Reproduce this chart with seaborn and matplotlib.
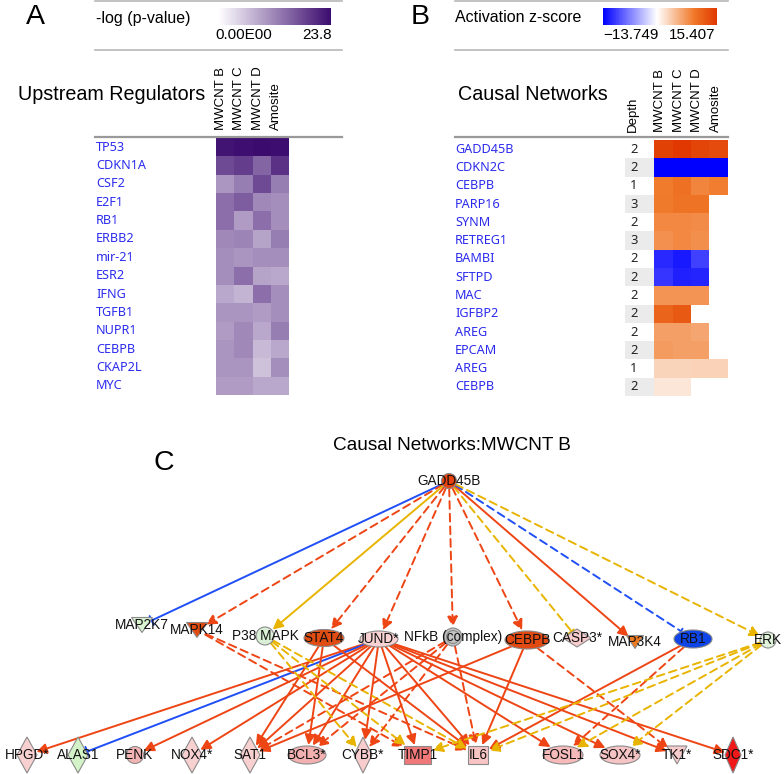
import numpy as np
import pandas as pd
import matplotlib
matplotlib.use("Agg")
import matplotlib.pyplot as plt
import seaborn as sns
from matplotlib.colors import LinearSegmentedColormap, ListedColormap
from matplotlib.patches import Ellipse, Polygon, Rectangle
import matplotlib.transforms as mtrans

plt.rcParams["font.family"] = ["Liberation Sans", "DejaVu Sans"]

W, H = 784, 774

#% Panel A data: upstream regulators, -log(p)
samples = ["MWCNT B", "MWCNT C", "MWCNT D", "Amosite"]
regulators = ["TP53", "CDKN1A", "CSF2", "E2F1", "RB1", "ERBB2", "mir-21", "ESR2",
              "IFNG", "TGFB1", "NUPR1", "CEBPB", "CKAP2L", "MYC"]
neglog_p = [
    [23.0, 23.4, 23.8, 23.5],
    [17.6, 18.8, 15.0, 20.0],
    [10.3, 12.7, 17.6, 12.7],
    [14.0, 15.8, 11.5, 11.0],
    [14.0, 9.7, 14.0, 11.0],
    [11.5, 12.0, 9.0, 12.7],
    [11.0, 10.4, 11.0, 11.0],
    [11.0, 14.0, 9.0, 8.5],
    [8.5, 7.3, 14.0, 11.0],
    [10.4, 10.4, 9.7, 11.0],
    [9.7, 11.5, 8.5, 12.7],
    [10.4, 11.5, 6.7, 8.5],
    [10.4, 10.4, 6.0, 11.0],
    [9.7, 9.7, 8.5, 8.5],
]
p_min, p_max = 0.0, 23.8

#% Panel B data: causal networks, activation z-score
networks = ["GADD45B", "CDKN2C", "CEBPB", "PARP16", "SYNM", "RETREG1", "BAMBI",
            "SFTPD", "MAC", "IGFBP2", "AREG", "EPCAM", "AREG", "CEBPB"]
depth = [2, 2, 1, 3, 2, 3, 2, 2, 2, 2, 2, 2, 1, 2]
nan = np.nan
zscore = [
    [14.6, 15.4, 14.2, 13.6],
    [-13.749, -13.749, -13.749, -13.749],
    [9.3, 10.2, 8.6, 9.2],
    [9.4, 10.0, 10.0, nan],
    [8.4, 8.4, 8.2, nan],
    [7.8, 8.4, 7.9, nan],
    [-11.5, -12.3, -10.3, nan],
    [-10.8, -12.0, -11.8, nan],
    [7.6, 7.6, 7.6, nan],
    [11.4, 12.4, nan, nan],
    [6.8, 6.8, 6.4, nan],
    [7.0, 6.8, 6.8, nan],
    [3.0, 3.0, 3.2, 3.2],
    [1.8, 1.8, nan, nan],
]
z_min, z_max = -13.749, 15.407

#% Panel C data: network layout
node_names = ["GADD45B", "MAP2K7", "MAPK14", "P38 MAPK", "STAT4", "JUND*",
              "NFkB (complex)", "CEBPB", "CASP3*", "MAP3K4", "RB1", "ERK",
              "HPGD*", "ALAS1", "PENK", "NOX4*", "SAT1", "BCL3*", "CYBB*",
              "TIMP1", "IL6", "FOSL1", "SOX4*", "TK1*", "SDC1*"]
node_x = [449, 142, 197, 265, 324, 379, 453, 527, 577, 635, 693, 768,
          27, 78, 135, 192, 250, 307, 363, 418, 478, 563, 620, 677, 733]
node_y = [481, 625, 630, 636, 638, 639, 637, 640, 638, 642, 639, 640,
          755, 755, 755, 755, 755, 755, 755, 755, 755, 755, 755, 755, 755]
node_shape = ["circle", "tri", "tri", "circle", "ellipse", "ellipse", "complex",
              "ellipse", "diamond", "tri", "ellipse", "circle",
              "diamond", "diamond", "circle", "diamond", "diamond", "ellipse",
              "diamond", "square", "square", "ellipse", "ellipse", "tri", "diamond"]
node_w = [15, 21, 21, 18, 40, 38, 18, 44, 28, 17, 38, 16,
          20, 20, 17, 20, 20, 38, 18, 27, 20, 40, 40, 20, 16]
node_h = [15, 15, 15, 18, 17, 16, 18, 18, 18, 13, 18, 16,
          36, 36, 17, 36, 36, 18, 36, 18, 18, 18, 18, 18, 36]
node_color = ["#e8420e", "#d9f2d0", "#e24a10", "#d9efd6", "#e04c12", "#f9d3d3",
              "#c4c4c4", "#e24a12", "#f8cccc", "#f07a20", "#0f45e6", "#e0f2dc",
              "#f8d0d0", "#d4f2c8", "#f4b4b4", "#f8d0d0", "#f8d0d0", "#f3b0b0",
              "#f8cccc", "#f07878", "#f8c4c4", "#f6baba", "#f6c4c4", "#f8cccc", "#f01818"]

RED, YEL, BLU = "#ee4515", "#e8b400", "#1f4ff5"
# (source, target, colour, line style, end)
edges = [
    ("GADD45B", "MAP2K7", BLU, "-", "bar"),
    ("GADD45B", "MAPK14", RED, "--", "arrow"),
    ("GADD45B", "P38 MAPK", YEL, "-", "arrow"),
    ("GADD45B", "STAT4", RED, "--", "arrow"),
    ("GADD45B", "JUND*", RED, "--", "arrow"),
    ("GADD45B", "NFkB (complex)", RED, "--", "arrow"),
    ("GADD45B", "CEBPB", RED, "--", "arrow"),
    ("GADD45B", "CASP3*", YEL, "--", "bar"),
    ("GADD45B", "MAP3K4", RED, "-", "arrow"),
    ("GADD45B", "RB1", BLU, "--", "bar"),
    ("GADD45B", "ERK", YEL, "--", "arrow"),
    ("JUND*", "HPGD*", RED, "-", "arrow"),
    ("JUND*", "ALAS1", BLU, "-", "bar"),
    ("JUND*", "PENK", RED, "-", "arrow"),
    ("JUND*", "NOX4*", RED, "-", "arrow"),
    ("JUND*", "SAT1", RED, "-", "arrow"),
    ("JUND*", "BCL3*", RED, "-", "arrow"),
    ("JUND*", "CYBB*", RED, "-", "arrow"),
    ("JUND*", "TIMP1", RED, "-", "arrow"),
    ("JUND*", "IL6", RED, "-", "arrow"),
    ("JUND*", "FOSL1", RED, "-", "arrow"),
    ("JUND*", "SOX4*", RED, "-", "arrow"),
    ("JUND*", "TK1*", RED, "-", "arrow"),
    ("JUND*", "SDC1*", RED, "-", "arrow"),
    ("STAT4", "SAT1", RED, "-", "arrow"),
    ("STAT4", "BCL3*", RED, "-", "arrow"),
    ("STAT4", "IL6", RED, "-", "arrow"),
    ("MAPK14", "TIMP1", RED, "--", "arrow"),
    ("MAPK14", "IL6", RED, "--", "arrow"),
    ("P38 MAPK", "CYBB*", YEL, "--", "arrow"),
    ("P38 MAPK", "TIMP1", YEL, "--", "arrow"),
    ("P38 MAPK", "IL6", YEL, "--", "arrow"),
    ("NFkB (complex)", "SAT1", RED, "--", "arrow"),
    ("NFkB (complex)", "BCL3*", RED, "--", "arrow"),
    ("NFkB (complex)", "CYBB*", RED, "--", "arrow"),
    ("NFkB (complex)", "IL6", RED, "--", "arrow"),
    ("CEBPB", "SAT1", RED, "-", "arrow"),
    ("CEBPB", "IL6", RED, "-", "arrow"),
    ("CEBPB", "TK1*", RED, "--", "arrow"),
    ("RB1", "IL6", RED, "-", "arrow"),
    ("RB1", "FOSL1", RED, "--", "arrow"),
    ("ERK", "TIMP1", YEL, "--", "arrow"),
    ("ERK", "IL6", YEL, "--", "arrow"),
    ("ERK", "FOSL1", YEL, "--", "arrow"),
    ("ERK", "SOX4*", YEL, "--", "arrow"),
]

###========================================================================###

fig = plt.figure(figsize=(W / 100, H / 100), dpi=100)


def px_axes(x0, y0, x1, y1):
    return fig.add_axes([x0 / W, 1 - y1 / H, (x1 - x0) / W, (y1 - y0) / H])


LABEL_BLUE = "#2b2bee"
shift = lambda px: mtrans.ScaledTranslation(px / 100, 0, fig.dpi_scale_trans)

#% Panel A heatmap
axA = px_axes(216, 138, 289, 395)
caxA = px_axes(218, 8, 331, 25)
dfA = pd.DataFrame(neglog_p, index=regulators, columns=samples)
cmapA = LinearSegmentedColormap.from_list("purp", ["#ffffff", "#3b0b6e"])
sns.heatmap(dfA, ax=axA, cmap=cmapA, vmin=p_min, vmax=p_max, cbar_ax=caxA,
            cbar_kws={"orientation": "horizontal"}, xticklabels=True, yticklabels=True)
axA.tick_params(axis="x", top=True, labeltop=True, bottom=False, labelbottom=False,
                labelrotation=90, length=0, pad=5.5, labelsize=9.5)
axA.tick_params(axis="y", length=0, pad=(216 - 96) * 0.72, labelrotation=0)
for lbl in axA.get_yticklabels():
    lbl.set_ha("left")
    lbl.set_color(LABEL_BLUE)
    lbl.set_family(["Noto Sans"])
    lbl.set_fontsize(9.1)
for lbl in axA.get_xticklabels():
    lbl.set_transform(lbl.get_transform() + shift(-4))
axA.set_xlabel("")
axA.set_ylabel("")
cbA = axA.collections[0].colorbar
cbA.outline.set_visible(False)
caxA.set_xticks([])

#% Panel B heatmap + depth column
axD = px_axes(625, 140, 654, 396)
axB = px_axes(654, 140, 728, 396)
caxB = px_axes(603, 8, 717, 25)
parity = pd.DataFrame({"Depth": np.arange(len(networks)) % 2}, index=networks)
sns.heatmap(parity, ax=axD, cmap=ListedColormap(["#ffffff", "#ebebeb"]), cbar=False,
            annot=np.array(depth).reshape(-1, 1), fmt="d",
            annot_kws={"fontsize": 9.3, "color": "#222222", "family": "Noto Sans"},
            xticklabels=True, yticklabels=True)
for t in axD.texts:
    t.set_x(0.3)
axD.tick_params(axis="x", top=True, labeltop=True, bottom=False, labelbottom=False,
                labelrotation=90, length=0, pad=5.5, labelsize=9.5)
axD.tick_params(axis="y", length=0, pad=(625 - 455) * 0.72, labelrotation=0)
for lbl in axD.get_yticklabels():
    lbl.set_ha("left")
    lbl.set_color(LABEL_BLUE)
    lbl.set_family(["Noto Sans"])
    lbl.set_fontsize(9.1)
for lbl in axD.get_xticklabels():
    lbl.set_transform(lbl.get_transform() + shift(-7))

dfB = pd.DataFrame(zscore, index=networks, columns=samples)
white_at = -z_min / (z_max - z_min)
cmapB = LinearSegmentedColormap.from_list(
    "z", [(0, "#0000ff"), (white_at, "#ffffff"), (0.8, "#f07828"), (1, "#e03800")])
sns.heatmap(dfB, ax=axB, cmap=cmapB, vmin=z_min, vmax=z_max, cbar_ax=caxB,
            cbar_kws={"orientation": "horizontal"}, xticklabels=True, yticklabels=False)
axB.tick_params(axis="x", top=True, labeltop=True, bottom=False, labelbottom=False,
                labelrotation=90, length=0, pad=5.5, labelsize=9.5)
for lbl in axB.get_xticklabels():
    lbl.set_transform(lbl.get_transform() + shift(-3))
for a in (axB, axD):
    a.set_xlabel("")
    a.set_ylabel("")
cbB = axB.collections[0].colorbar
cbB.outline.set_visible(False)
caxB.set_xticks([])

#% Overlay: headers, rules, network
ov = fig.add_axes([0, 0, 1, 1])
ov.set_xlim(0, W)
ov.set_ylim(H, 0)
ov.axis("off")

for x0, x1 in [(95, 342), (455, 728)]:
    ov.plot([x0, x1], [1, 1], color="#b8b8b8", lw=1.2)
    ov.plot([x0, x1], [49.5, 49.5], color="#b8b8b8", lw=1.2)
    ov.plot([x0, x1], [137, 137], color="#999999", lw=1.6)

ov.text(26, 17, "A", fontsize=20.5, ha="left", va="center")
ov.text(96, 19, "-log (p-value)", fontsize=11.5, ha="left", va="center")
ov.text(215, 35, "0.00E00", fontsize=11, ha="left", va="center")
ov.text(332, 35, f"{p_max}", fontsize=11, ha="right", va="center")
ov.text(18, 95, "Upstream Regulators", fontsize=14.2, ha="left", va="center")

ov.text(411, 17, "B", fontsize=20.5, ha="left", va="center")
ov.text(455, 17, "Activation z-score", fontsize=11.5, ha="left", va="center")
ov.text(603, 35, f"\u2212{abs(z_min):.3f}", fontsize=11, ha="left", va="center")
ov.text(715, 35, f"{z_max:.3f}", fontsize=11, ha="right", va="center")
ov.text(458, 95, "Causal Networks", fontsize=14.2, ha="left", va="center")

ov.text(154, 463, "C", fontsize=20.5, ha="left", va="center")
ov.text(452, 445, "Causal Networks:MWCNT B", fontsize=13.7, ha="center", va="center")

pos = {n: (x, y) for n, x, y in zip(node_names, node_x, node_y)}
info = {n: (s, w, h) for n, s, w, h in zip(node_names, node_shape, node_w, node_h)}


def boundary(name, ux, uy):
    s, w, h = info[name]
    a, b = w / 2, h / 2
    if s == "diamond":
        return 1 / (abs(ux) / a + abs(uy) / b)
    if s == "square":
        return min(a / max(abs(ux), 1e-6), b / max(abs(uy), 1e-6))
    return 1 / np.sqrt((ux / a) ** 2 + (uy / b) ** 2)


for s, t, col, ls, end in edges:
    x0, y0 = pos[s]
    x1, y1 = pos[t]
    L = np.hypot(x1 - x0, y1 - y0)
    ux, uy = (x1 - x0) / L, (y1 - y0) / L
    rs = boundary(s, ux, uy)
    rt = boundary(t, ux, uy) + 1
    if end == "arrow":
        style = "-|>,head_length=0.6,head_width=0.3"
    else:
        style = "-[,widthB=0.35,lengthB=0"
    ov.annotate("", xy=(x1 - ux * rt, y1 - uy * rt), xytext=(x0 + ux * rs, y0 + uy * rs),
                arrowprops=dict(arrowstyle=style, color=col, lw=1.4,
                                linestyle=(0, (4, 2.5)) if ls == "--" else "-",
                                shrinkA=0, shrinkB=0, mutation_scale=10),
                zorder=1)

EC = "#8a8a8a"
for n, x, y, s, w, h, c in zip(node_names, node_x, node_y, node_shape, node_w, node_h, node_color):
    if s in ("ellipse", "circle"):
        p = Ellipse((x, y), w, h, fc=c, ec=EC, lw=0.8)
    elif s == "complex":
        p = Ellipse((x, y), w, h, fc=c, ec=EC, lw=0.8)
        ov.add_patch(Ellipse((x, y), w * 0.72, h * 0.72, fc="none", ec=EC, lw=0.8, zorder=3))
    elif s == "diamond":
        p = Polygon([(x, y - h / 2), (x + w / 2, y), (x, y + h / 2), (x - w / 2, y)],
                    closed=True, fc=c, ec=EC, lw=0.8)
    elif s == "tri":
        p = Polygon([(x - w / 2, y - h / 2), (x + w / 2, y - h / 2), (x, y + h / 2)],
                    closed=True, fc=c, ec=EC, lw=0.8)
    else:
        p = Rectangle((x - w / 2, y - h / 2), w, h, fc=c, ec=EC, lw=0.8)
    p.set_zorder(2)
    ov.add_patch(p)
    ov.text(x, y, n, fontsize=9.8, ha="center", va="center", zorder=4, color="#111111")

fig.savefig("out.png", dpi=100)
